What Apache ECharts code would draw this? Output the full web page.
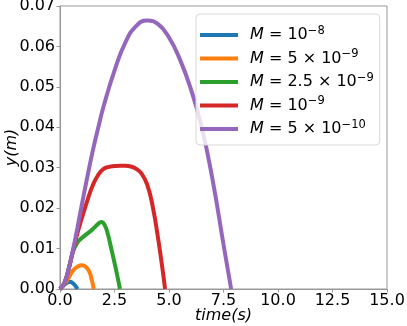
<!DOCTYPE html>
<html>
<head>
<meta charset="utf-8">
<script src="https://cdn.jsdelivr.net/npm/echarts@6/dist/echarts.min.js"></script>
<style>
  html, body { margin: 0; padding: 0; background: #fff; }
</style>
</head>
<body>
<div id="chart" style="width: 407px; height: 326px"></div>
<script>
// 读图得到的数据 (time s, y m)
var seriesNames = ["M1e-8", "M5e-9", "M2.5e-9", "M1e-9", "M5e-10"];
var legendLabels = {
  "M1e-8": "{i|M} = 10{sup|−8}",
  "M5e-9": "{i|M} = 5 × 10{sup|−9}",
  "M2.5e-9": "{i|M} = 2.5 × 10{sup|−9}",
  "M1e-9": "{i|M} = 10{sup|−9}",
  "M5e-10": "{i|M} = 5 × 10{sup|−10}",
};
var colors = ["#1f77b4", "#ff7f0e", "#2ca02c", "#d62728", "#9467bd"];

var blueT = [0, 0.15, 0.3, 0.45, 0.6, 0.72, 0.8];
var blueY = [0, 0.0008, 0.0015, 0.0018, 0.0014, 0.0007, 0];

var orangeT = [0, 0.2, 0.4, 0.6, 0.8, 1.0, 1.2, 1.35, 1.45, 1.55];
var orangeY = [0, 0.0012, 0.0028, 0.0046, 0.0055, 0.0059, 0.0054, 0.0042, 0.0024, 0];

var greenT = [0, 0.2, 0.4, 0.6, 0.8, 1.0, 1.25, 1.5, 1.75, 1.9, 2.05, 2.2, 2.35, 2.5, 2.62, 2.75];
var greenY = [0, 0.0015, 0.005, 0.0093, 0.0115, 0.0126, 0.0137, 0.0148, 0.0161, 0.0166, 0.0158, 0.0135, 0.01, 0.0065, 0.0035, 0];

var redT = [0, 0.2, 0.4, 0.6, 0.8, 1.0, 1.25, 1.5, 1.75, 2.0, 2.25, 2.5, 2.75, 3.0, 3.25, 3.5, 3.75, 4.0, 4.25, 4.5, 4.7, 4.82];
var redY = [0, 0.0015, 0.005, 0.0095, 0.0138, 0.0175, 0.0218, 0.0256, 0.0282, 0.0297, 0.0302, 0.0304, 0.0305, 0.0305, 0.0303, 0.0297, 0.0285, 0.0258, 0.0205, 0.0125, 0.005, 0];

var purpleT = [0, 0.2, 0.4, 0.6, 0.8, 1.0, 1.25, 1.5, 1.75, 2.0, 2.5, 3.0, 3.5, 4.0, 4.5, 5.0, 5.5, 6.0, 6.5, 7.0, 7.5, 7.85];
var purpleY = [0, 0.0015, 0.005, 0.0098, 0.0152, 0.0208, 0.0276, 0.0341, 0.0398, 0.0452, 0.054, 0.061, 0.0651, 0.0664, 0.0655, 0.0622, 0.0568, 0.0495, 0.04, 0.027, 0.011, 0];

var allT = [blueT, orangeT, greenT, redT, purpleT];
var allY = [blueY, orangeY, greenY, redY, purpleY];

function pairs(t, y) {
  return t.map(function (v, i) {
    return [v, y[i]];
  });
}

var chart = echarts.init(document.getElementById("chart"));
var font = "DejaVu Sans";

chart.setOption({
  animation: false,
  color: colors,
  grid: {
    left: 60, right: 20, top: 6, bottom: 37,
    outerBoundsMode: "none",
    containLabel: false,
    show: true,
    borderColor: "#999",
    borderWidth: 1,
  },
  xAxis: {
    type: "value",
    min: 0,
    max: 15,
    interval: 2.5,
    name: "time(s)",
    nameLocation: "middle",
    nameGap: 19,
    nameMoveOverlap: false,
    nameTextStyle: { fontFamily: font, fontSize: 16, fontStyle: "italic", color: "#000" },
    axisLine: { show: true, lineStyle: { color: "#999", width: 1 } },
    axisTick: { show: true, length: 3.5, lineStyle: { color: "#999" } },
    axisLabel: {
      margin: 4,
      fontFamily: font,
      fontSize: 16,
      color: "#000",
      formatter: function (v) { return v.toFixed(1); },
    },
    splitLine: { show: false },
  },
  yAxis: {
    type: "value",
    min: 0,
    max: 0.07,
    interval: 0.01,
    name: "y(m)",
    nameLocation: "middle",
    nameGap: 40,
    nameMoveOverlap: false,
    nameTextStyle: { fontFamily: font, fontSize: 16, fontStyle: "italic", color: "#000" },
    axisLine: { show: true, lineStyle: { color: "#999", width: 1 } },
    axisTick: { show: true, length: 3.5, lineStyle: { color: "#999" } },
    axisLabel: {
      margin: 5,
      fontFamily: font,
      fontSize: 16,
      color: "#000",
      formatter: function (v) { return v.toFixed(2); },
    },
    splitLine: { show: false },
  },
  legend: {
    orient: "vertical",
    left: 196,
    top: 14,
    padding: [11, 6, 6, 4],
    itemGap: 3.5,
    itemWidth: 38,
    itemHeight: 4,
    icon: "rect",
    backgroundColor: "rgba(255,255,255,0.8)",
    borderColor: "#d8d8d8",
    borderWidth: 1,
    borderRadius: 4,
    data: seriesNames,
    formatter: function (name) {
      return "{sp|}" + legendLabels[name];
    },
    textStyle: {
      fontFamily: font,
      fontSize: 16,
      color: "#000",
      lineHeight: 20,
      rich: {
        sp: { width: 7, lineHeight: 20 },
        i: { fontFamily: font, fontSize: 16, fontStyle: "italic", color: "#000", lineHeight: 20 },
        sup: { fontFamily: font, fontSize: 11.5, color: "#000", verticalAlign: "top", lineHeight: 10 },
      },
    },
  },
  series: seriesNames.map(function (n, k) {
    return {
      name: n,
      type: "line",
      smooth: 0.5,
      showSymbol: false,
      lineStyle: { width: 4, color: colors[k] },
      data: pairs(allT[k], allY[k]),
    };
  }),
});
</script>
</body>
</html>
